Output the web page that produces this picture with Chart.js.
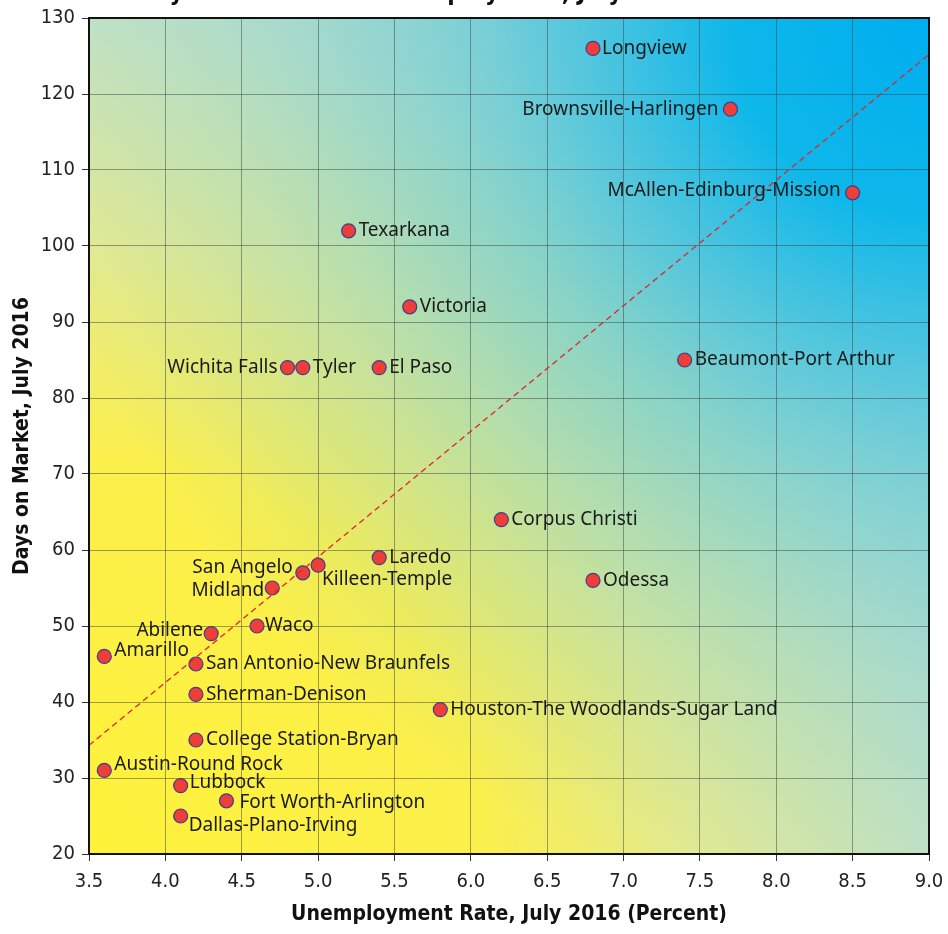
<!DOCTYPE html>
<html>
<head>
<meta charset="utf-8">
<script src="https://cdn.jsdelivr.net/npm/chart.js@4.4.0/dist/chart.umd.min.js"></script>
<style>
  html, body { margin: 0; padding: 0; background: #fff; }
  #wrap { width: 948px; height: 934px; position: relative; }
</style>
</head>
<body>
<div id="wrap"><canvas id="chart"></canvas></div>
<script>
// metro areas, July 2016
const metros = [
  "Longview", "Brownsville-Harlingen", "McAllen-Edinburg-Mission", "Texarkana",
  "Victoria", "Wichita Falls", "Tyler", "El Paso", "Beaumont-Port Arthur",
  "Corpus Christi", "Laredo", "Killeen-Temple", "San Angelo", "Midland", "Odessa",
  "Waco", "Abilene", "Amarillo", "San Antonio-New Braunfels", "Sherman-Denison",
  "Houston-The Woodlands-Sugar Land", "College Station-Bryan", "Austin-Round Rock",
  "Lubbock", "Fort Worth-Arlington", "Dallas-Plano-Irving"
];
const unemployment = [6.8, 7.7, 8.5, 5.2, 5.6, 4.8, 4.9, 5.4, 7.4, 6.2, 5.4, 5.0, 4.9, 4.7, 6.8,
  4.6, 4.3, 3.6, 4.2, 4.2, 5.8, 4.2, 3.6, 4.1, 4.4, 4.1];
const daysOnMarket = [126, 118, 107, 102, 92, 84, 84, 84, 85, 64, 59, 58, 57, 55, 56,
  50, 49, 46, 45, 41, 39, 35, 31, 29, 27, 25];

// fitted trend line end points
const trendX = [3.5, 9.0];
const trendY = [34.3, 125.2];

const xMin = 3.5, xMax = 9.0, xStep = 0.5;
const yMin = 20, yMax = 130, yStep = 10;

const chartTitle = "Days on Market vs. Unemployment, July 2016";
const xTitle = "Unemployment Rate, July 2016 (Percent)";
const yTitle = "Days on Market, July 2016";

// label placement next to each point: [side, dx, dy]
const labelPlace = {
  "Longview": ["r", 9, 0],
  "Brownsville-Harlingen": ["l", -12, 0],
  "McAllen-Edinburg-Mission": ["l", -12, -2],
  "Wichita Falls": ["l", -10, 0],
  "San Angelo": ["l", -10, -5],
  "Midland": ["l", -8, 3],
  "Abilene": ["l", -8, -3],
  "Killeen-Temple": ["r", 4, 14],
  "Amarillo": ["r", 10, -6],
  "Austin-Round Rock": ["r", 10, -6],
  "Lubbock": ["r", 9, -3],
  "Fort Worth-Arlington": ["r", 13, 2],
  "Dallas-Plano-Irving": ["r", 8, 10],
  "Waco": ["r", 8, 0]
};

const labelFont = "19px 'Noto Sans', sans-serif";
const narrow = "'DejaVu Sans Condensed', 'DejaVu Sans', sans-serif";

const bgPlugin = {
  id: "bg",
  beforeDraw(chart) {
    const { ctx, chartArea: a } = chart;
    const w = a.right - a.left, h = a.bottom - a.top;
    // yellow spreading out from the bottom left corner
    const g = ctx.createRadialGradient(a.left, a.bottom, 0, a.left, a.bottom, 980);
    g.addColorStop(0, "#fff23a");
    g.addColorStop(0.4, "#fbef4c");
    g.addColorStop(0.62, "#e4ea90");
    g.addColorStop(0.85, "#c4e2c2");
    g.addColorStop(1, "#b0dcd0");
    // blue from the top right corner
    const b = ctx.createRadialGradient(a.right, a.top, 0, a.right, a.top, 900);
    b.addColorStop(0, "rgba(0,174,239,1)");
    b.addColorStop(0.22, "rgba(0,180,236,0.92)");
    b.addColorStop(0.5, "rgba(60,192,226,0.5)");
    b.addColorStop(0.75, "rgba(110,202,222,0.26)");
    b.addColorStop(1, "rgba(130,206,218,0)");
    ctx.save();
    ctx.fillStyle = g;
    ctx.fillRect(a.left, a.top, w, h);
    ctx.fillStyle = b;
    ctx.fillRect(a.left, a.top, w, h);
    ctx.restore();
  },
  afterDraw(chart) {
    const { ctx, chartArea: a } = chart;
    ctx.save();
    ctx.strokeStyle = "#111";
    ctx.lineWidth = 2;
    ctx.strokeRect(a.left, a.top, a.right - a.left, a.bottom - a.top);
    // clipped title, only the bottom of it shows
    ctx.fillStyle = "#111";
    ctx.font = "bold 24px " + narrow;
    ctx.textAlign = "right";
    ctx.textBaseline = "alphabetic";
    ctx.fillText(chartTitle, 690, 0);
    ctx.restore();
  }
};

const labelPlugin = {
  id: "pointLabels",
  afterDatasetsDraw(chart) {
    const { ctx } = chart;
    const meta = chart.getDatasetMeta(1);
    ctx.save();
    ctx.font = labelFont;
    ctx.fillStyle = "#1a1a1a";
    ctx.textBaseline = "middle";
    meta.data.forEach((pt, i) => {
      const name = metros[i];
      const p = labelPlace[name] || ["r", 10, 0];
      ctx.textAlign = p[0] === "l" ? "right" : "left";
      ctx.fillText(name, pt.x + p[1], pt.y + p[2]);
    });
    ctx.restore();
  }
};

const tickFont = { family: narrow, size: 20 };
const titleFont = { family: narrow, size: 21, weight: "bold" };

new Chart(document.getElementById("chart"), {
  type: "scatter",
  data: {
    datasets: [
      {
        type: "line",
        data: trendX.map((x, i) => ({ x: x, y: trendY[i] })),
        borderColor: "#e0242a",
        borderWidth: 1.3,
        borderDash: [6, 4],
        pointRadius: 0,
        fill: false
      },
      {
        data: unemployment.map((x, i) => ({ x: x, y: daysOnMarket[i] })),
        backgroundColor: "#ee3e3a",
        borderColor: "#3b3f8f",
        borderWidth: 1.2,
        pointRadius: 7
      }
    ]
  },
  options: {
    responsive: true,
    maintainAspectRatio: false,
    animation: false,
    layout: { padding: { top: 18, right: 19, left: 10, bottom: 0 } },
    plugins: {
      legend: { display: false },
      tooltip: { enabled: false },
      title: { display: false }
    },
    scales: {
      x: {
        type: "linear",
        min: xMin, max: xMax,
        ticks: {
          stepSize: xStep,
          color: "#222",
          font: tickFont,
          padding: 9,
          callback: v => v.toFixed(1)
        },
        grid: { color: "rgba(60,70,70,0.5)", lineWidth: 1, tickLength: 7, tickColor: "#333" },
        border: { display: false },
        title: { display: true, text: xTitle, color: "#111", font: titleFont, padding: { top: 2, bottom: 7 } },
        afterFit: s => { s.height = 80; s.paddingRight = 0; s.paddingLeft = 0; }
      },
      y: {
        type: "linear",
        min: yMin, max: yMax,
        ticks: {
          stepSize: yStep,
          color: "#222",
          font: tickFont,
          padding: 7
        },
        grid: { color: "rgba(60,70,70,0.5)", lineWidth: 1, tickLength: 7, tickColor: "#333" },
        border: { display: false },
        title: { display: true, text: yTitle, color: "#111", font: titleFont, padding: { top: 0, bottom: 4 } },
        afterFit: s => { s.width = 79; s.paddingTop = 0; s.paddingBottom = 0; }
      }
    }
  },
  plugins: [bgPlugin, labelPlugin]
});
</script>
</body>
</html>
